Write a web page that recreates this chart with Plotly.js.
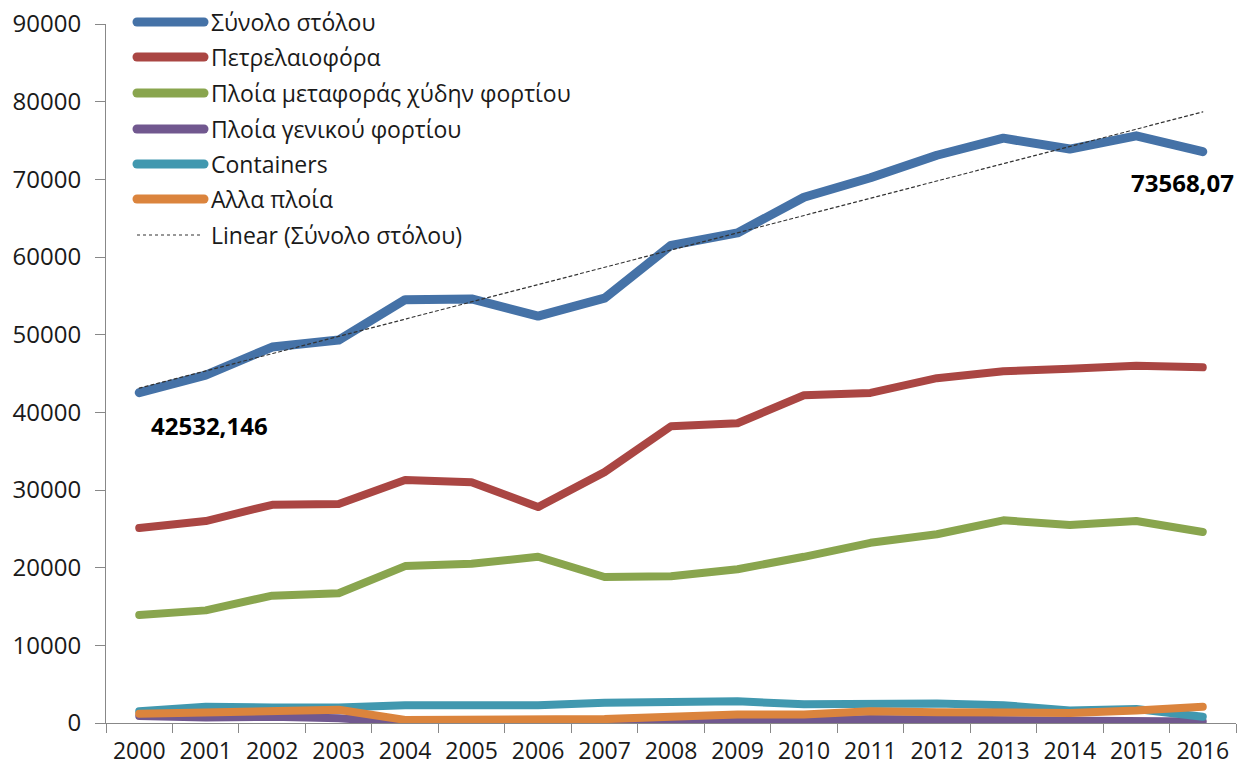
<!DOCTYPE html>
<html>
<head>
<meta charset="utf-8">
<script src="https://cdn.plot.ly/plotly-3.0.1.min.js"></script>
<style>
html,body{margin:0;padding:0;background:#fff;}
#chart{width:1238px;height:767px;}
</style>
</head>
<body>
<div id="chart"></div>
<script>
const years = ['2000','2001','2002','2003','2004','2005','2006','2007','2008','2009','2010','2011','2012','2013','2014','2015','2016'];
const seriesNames = ['Σύνολο στόλου','Πετρελαιοφόρα','Πλοία μεταφοράς χύδην φορτίου','Πλοία γενικού φορτίου','Containers','Αλλα πλοία'];
const trendName = 'Linear (Σύνολο στόλου)';
const total   = [42532.146,44800,48400,49300,54500,54600,52400,54700,61500,63100,67700,70200,73100,75300,73900,75600,73568.07];
const tankers = [25100,26000,28100,28200,31300,31000,27800,32300,38200,38600,42200,42500,44400,45300,45600,46000,45800];
const bulk    = [13900,14500,16400,16700,20200,20500,21400,18800,18900,19800,21400,23200,24300,26100,25500,26000,24600];
const general = [900,700,800,600,100,100,100,100,150,200,300,500,400,300,300,300,200];
const containers = [1500,2100,2000,2000,2300,2300,2300,2600,2800,2800,2400,2500,2500,2300,1600,1800,800];
const other   = [1200,1300,1500,1700,400,400,400,500,800,1100,1100,1500,1400,1300,1300,1600,2100];
const colors = ['#4572A7','#AA4643','#89A54E','#71588F','#4198AF','#DB843D'];

// least squares linear trend of total fleet (as Excel's "Linear" trendline)
const n = total.length;
const xs = total.map((_, i) => i + 1);
const mx = xs.reduce((a,b)=>a+b,0)/n;
const my = total.reduce((a,b)=>a+b,0)/n;
let sxy = 0, sxx = 0;
for (let i = 0; i < n; i++) { sxy += (xs[i]-mx)*(total[i]-my); sxx += (xs[i]-mx)**2; }
const slope = sxy/sxx, icpt = my - slope*mx;
const trend = xs.map(x => icpt + slope*x);

const FONT = '"Open Sans", "Noto Sans", sans-serif';
const allSeries = [total, tankers, bulk, general, containers, other];
const widths = [9, 8, 8, 8, 8, 8];
const traces = allSeries.map((ys, k) => ({
  type: 'scatter', mode: 'lines', x: years, y: ys, name: seriesNames[k],
  line: {color: colors[k], width: widths[k]},
  showlegend: false, hoverinfo: 'skip'
}));
traces.push({
  type: 'scatter', mode: 'lines', x: years, y: trend, name: trendName,
  line: {color: '#333', width: 1.2, dash: 'dot'}, showlegend: false, hoverinfo: 'skip'
});

// manual legend (positions in pixels converted to paper coords)
const L = 106, R = 1236, T = 24, B = 723;
const px = x => (x - L)/(R - L);
const py = y => (B - y)/(B - T);
const rowY = [22, 57, 93, 129, 164, 199, 235];
const shapes = [];
const annotations = [];
seriesNames.concat([trendName]).forEach((name, k) => {
  const isTrend = k === seriesNames.length;
  shapes.push({
    type: 'line', xref: 'paper', yref: 'paper',
    x0: px(137), x1: px(isTrend ? 203 : 204), y0: py(rowY[k]), y1: py(rowY[k]),
    line: isTrend ? {color: '#333', width: 1.2, dash: 'dot'} : {color: colors[k], width: 9}
  });
  annotations.push({
    xref: 'paper', yref: 'paper', x: px(209), y: py(rowY[k]), xanchor: 'left', yanchor: 'middle',
    text: name, showarrow: false, font: {family: FONT, size: 23, color: '#1a1a1a'}
  });
});
// data labels (category index positions)
annotations.push({
  x: 0, y: total[0], xref: 'x', yref: 'y', text: '<b>' + String(total[0]).replace('.', ',') + '</b>',
  showarrow: false, xshift: 70, yshift: -33, font: {family: FONT, size: 24, color: '#000'}
});
annotations.push({
  x: n - 1, y: total[n-1], xref: 'x', yref: 'y', text: '<b>' + String(total[n-1]).replace('.', ',') + '</b>',
  showarrow: false, xshift: -20, yshift: -31, font: {family: FONT, size: 24, color: '#000'}
});

const layout = {
  width: 1238, height: 767,
  margin: {l: L, r: 1238 - R, t: T, b: 767 - B},
  paper_bgcolor: '#fff', plot_bgcolor: '#fff',
  font: {family: FONT, size: 24, color: '#1a1a1a'},
  showlegend: false,
  xaxis: {
    type: 'category', range: [-0.5, n - 0.5], autorange: false,
    showgrid: false, zeroline: false,
    showline: true, linecolor: '#888', linewidth: 1,
    ticks: 'outside', ticklen: 9, tickcolor: '#888', tickson: 'boundaries',
    tickangle: 0, ticklabelstandoff: 7,
    tickfont: {family: FONT, size: 23, color: '#1a1a1a'}
  },
  yaxis: {
    range: [0, 90000], autorange: false, dtick: 10000, showgrid: false, zeroline: false,
    showline: true, linecolor: '#888', linewidth: 1,
    ticks: 'outside', ticklen: 10, tickcolor: '#888',
    tickformat: 'd', ticklabelstandoff: 9,
    tickfont: {family: FONT, size: 24, color: '#1a1a1a'}
  },
  shapes: shapes,
  annotations: annotations
};

Plotly.newPlot('chart', traces, layout, {staticPlot: true, displayModeBar: false}).then(gd => {
  gd.querySelectorAll('.scatterlayer .js-line').forEach(p => {
    p.style.strokeLinejoin = 'round';
    p.style.strokeLinecap = 'round';
  });
  gd.querySelectorAll('.shapelayer path').forEach(p => {
    if (parseFloat(p.style.strokeWidth) > 5) p.style.strokeLinecap = 'round';
  });
});
</script>
</body>
</html>
